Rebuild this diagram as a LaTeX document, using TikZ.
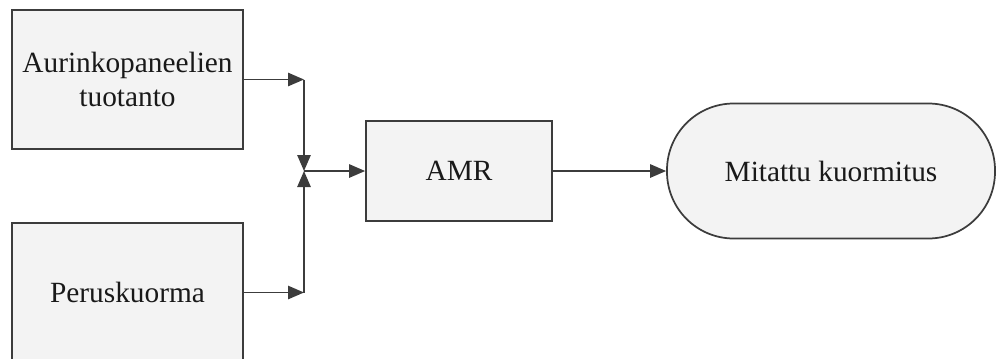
\documentclass[tikz,border=0pt]{standalone}
\usepackage{fontspec}
\setmainfont{Liberation Serif}
\usetikzlibrary{arrows.meta}

\begin{document}
\begin{tikzpicture}[x=0.75pt,y=0.75pt,yscale=-1,xscale=1,
  blok/.style={draw={rgb, 255:red, 60; green, 60; blue, 60}, line width=1.3pt,
    fill={rgb, 255:red, 243; green, 243; blue, 243}, inner sep=0pt, align=center,
    font=\fontsize{22}{26}\selectfont, text={rgb, 255:red, 25; green, 25; blue, 25}},
  nuoli/.style={draw={rgb, 255:red, 60; green, 60; blue, 60}, line width=1.3pt,
    -{Triangle[length=12pt,width=10pt]}}]
\useasboundingbox (0,0) rectangle (996,358);

% Blocks
\node [blok, minimum width=173.25pt, minimum height=104.25pt] (aurinko) at (127.5,79.5) {Aurinkopaneelien\\tuotanto};
\node [blok, minimum width=173.25pt, minimum height=104.25pt] (perus) at (127.5,292.5) {Peruskuorma};
\node [blok, minimum width=139.5pt, minimum height=75pt] (amr) at (459,171) {AMR};
\node [blok, rounded corners=50pt, minimum width=246pt, minimum height=101.25pt] (mitattu) at (831,171) {Mitattu kuormitus};

% Junction
\coordinate (liitos) at (304,171);

% Connectors
\draw [nuoli] (aurinko.east) -- (aurinko.east -| liitos);
\draw [nuoli] (aurinko.east -| liitos) -- (liitos);
\draw [nuoli] (perus.east) -- (perus.east -| liitos);
\draw [nuoli] (perus.east -| liitos) -- (liitos);
\draw [nuoli] (liitos) -- (amr.west);
\draw [nuoli] (amr.east) -- (mitattu.west);

\end{tikzpicture}
\end{document}
